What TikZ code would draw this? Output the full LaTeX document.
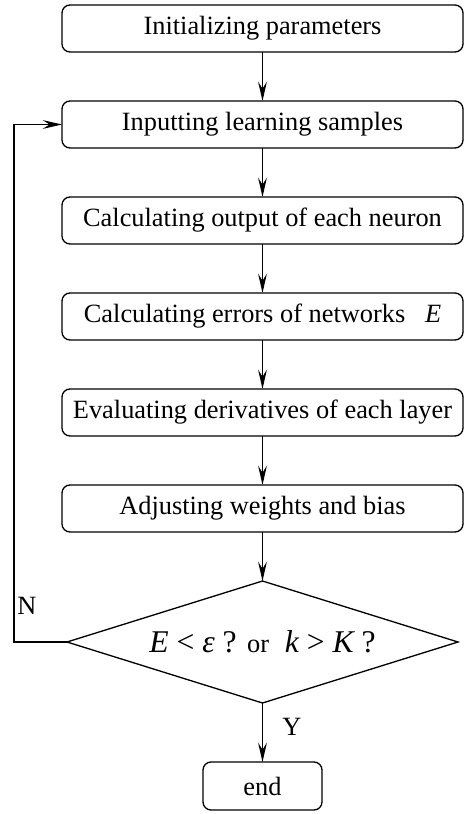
\documentclass[tikz,border=0pt]{standalone}
\usepackage{fontspec}
\setmainfont{Liberation Serif}
\usetikzlibrary{arrows.meta,positioning,shapes.geometric}

\begin{document}
\begin{tikzpicture}[
  font=\fontsize{15}{18}\selectfont,
  line width=0.75pt,
  n/.style={draw, rounded corners=0.16cm, minimum width=8.02cm, minimum height=0.94cm, inner xsep=2pt, outer sep=0pt, align=center},
  dec/.style={draw, diamond, aspect=3.2, minimum width=7.82cm, minimum height=2.44cm, inner sep=0pt, outer sep=0pt, font=\fontsize{18}{21}\selectfont},
  arr/.style={-{Stealth[length=11pt,width=5pt,inset=4pt]}},
  lbl/.style={inner sep=1pt}
]
\useasboundingbox (0,0) rectangle (9.28,-16.28);
\node[n] (b1) at (5.25,-0.57) {Initializing parameters};
\node[n, below=0.98cm of b1] (b2) {Inputting learning samples};
\node[n, below=0.98cm of b2] (b3) {Calculating output of each neuron};
\node[n, below=0.98cm of b3] (b4) {Calculating errors of networks\ \ \ {\itshape E}};
\node[n, below=0.98cm of b4] (b5) {Evaluating derivatives of each layer};
\node[n, below=0.98cm of b5] (b6) {Adjusting weights and bias};
\node[dec, below=0.98cm of b6] (d1) {{\itshape E} < {\itshape ε} ? {\fontsize{15}{18}\selectfont or}\ \ {\itshape k} > {\itshape K} ?};
\node[n, minimum width=2.38cm, minimum height=0.96cm, below=1.18cm of d1] (e1) {end};

\foreach \i/\j in {b1/b2,b2/b3,b3/b4,b4/b5,b5/b6,b6/d1}
  \draw[arr] (\i) -- (\j);
\draw[arr] (d1) -- node[lbl, right=0.35cm, pos=0.4] (yes) {Y} (e1);
\draw[arr] (d1.west) -- ++(-1.06,0) |- (b2.west);
\node[lbl] (no) at (0.54,-12.12) {N};
\end{tikzpicture}
\end{document}
